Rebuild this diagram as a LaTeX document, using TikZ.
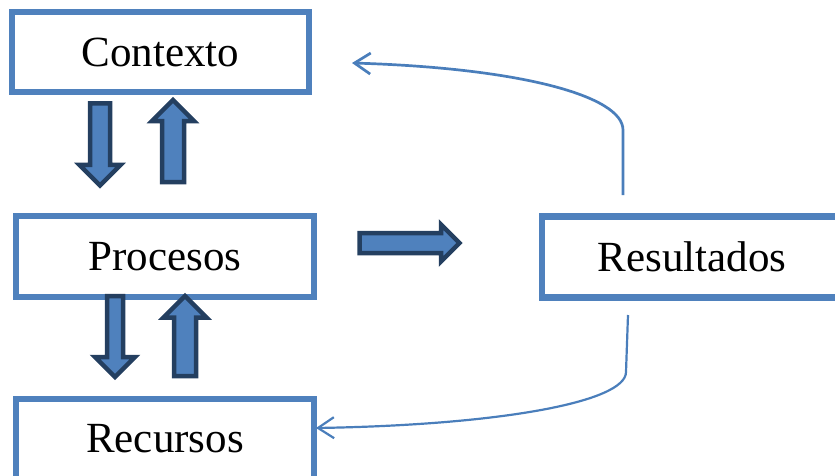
\documentclass[tikz,border=0pt]{standalone}
\usepackage{fontspec}
\setmainfont{Liberation Serif}
\usepackage{tikz}
\usetikzlibrary{arrows.meta,shapes.arrows,positioning}

\definecolor{boxblue}{HTML}{4F81BD}
\definecolor{arrowdark}{HTML}{243F60}
\definecolor{curveblue}{HTML}{4A7EBB}

\begin{document}
\begin{tikzpicture}[x=1pt, y=-1pt,
    stage/.style={draw=boxblue, line width=6.3pt, fill=white, minimum height=80pt,
        font=\fontsize{43}{50}\selectfont},
    blockarrow/.style={single arrow, draw=arrowdark, fill=boxblue, line width=4.5pt,
        inner sep=0pt, text height=0pt, text depth=0pt, single arrow head indent=0pt},
    loopback/.style={draw=curveblue, -{Straight Barb[length=16pt, width=21pt]}}]
    \clip (0,0) rectangle (835,476);

    % the four boxes
    \node [stage, minimum width=297pt] (ctx) at (160.5,52) {Contexto};
    \node [stage, minimum width=298pt, minimum height=81pt] (proc) at (165,256.5) {Procesos};
    \node [stage, minimum width=298pt] (rec) at (165,439) {Recursos};
    \node [stage, minimum width=300pt, minimum height=81pt] (res) at (692,257) {Resultados};

    % block arrows between the boxes
    \node [blockarrow, rotate=-90, minimum height=82pt, inner ysep=7.75pt, single arrow head extend=10.5pt] (ctxdown) at (100,139.5) {};
    \node [blockarrow, rotate=90, minimum height=82pt, inner ysep=8.75pt, single arrow head extend=10pt] (ctxup) at (173,146.5) {};
    \node [blockarrow, rotate=-90, minimum height=81pt, inner ysep=5.75pt, single arrow head extend=12pt] (recdown) at (115,332.5) {};
    \node [blockarrow, rotate=90, minimum height=80pt, inner ysep=8.75pt, single arrow head extend=10.5pt] (recup) at (185,341.5) {};
    \node [blockarrow, minimum height=100pt, inner ysep=7.75pt, single arrow head extend=8.5pt] (toRes) at (404.5,243) {};

    % feedback curves
    \coordinate (fromResUp) at (623,195);
    \coordinate (toCtx) at (352,63);
    \coordinate (fromResDown) at (628,315);
    \coordinate (toRec) at (316,428);
    \draw [loopback, line width=2.7pt] (fromResUp) -- (623,130) .. controls (623,96) and (520,68) .. (toCtx);
    \draw [loopback, line width=2.2pt] (fromResDown) -- (626,372) .. controls (626,402) and (500,425) .. (toRec);
\end{tikzpicture}
\end{document}
